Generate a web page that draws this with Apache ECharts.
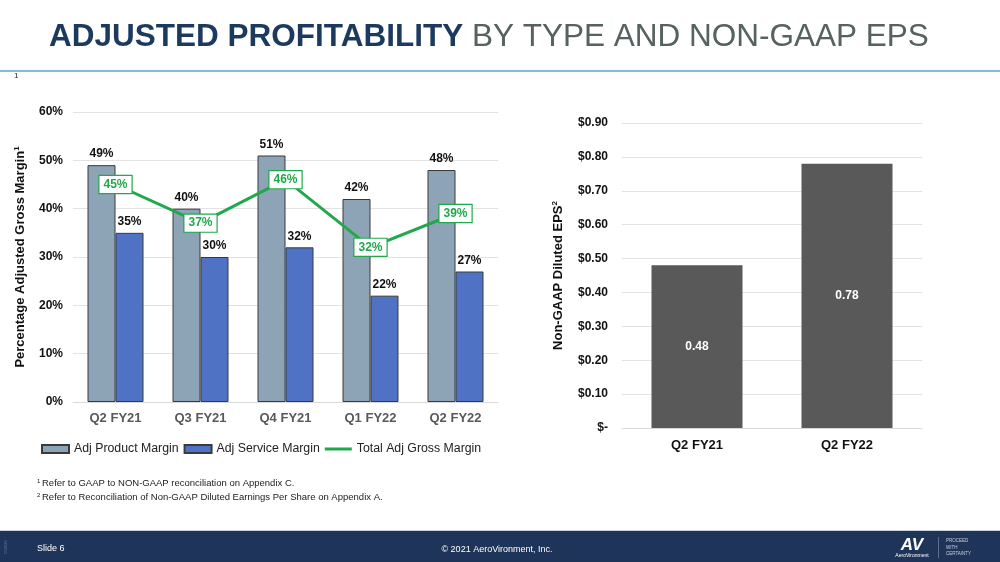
<!DOCTYPE html>
<html><head><meta charset="utf-8">
<script src="https://cdn.jsdelivr.net/npm/echarts@6/dist/echarts.min.js"></script>
<style>html,body{margin:0;padding:0;background:#fff}#c{width:1000px;height:562px}</style>
</head><body><div id="c"></div>
<script>
const quarters = ['Q2 FY21','Q3 FY21','Q4 FY21','Q1 FY22','Q2 FY22'];
const productMargin = [49, 40, 51, 42, 48];
const serviceMargin = [35, 30, 32, 22, 27];
const totalMargin = [45, 37, 46, 32, 39];
const epsCategories = ['Q2 FY21','Q2 FY22'];
const epsValues = [0.48, 0.78];

const F = '"Liberation Sans", Arial, sans-serif';
const chart = echarts.init(document.getElementById('c'), null, {renderer:'canvas'});
chart.setOption({
  animation:false,
  textStyle:{fontFamily:F},
  grid:[
    {left:73, top:112, width:425, height:290},
    {left:622, top:123, width:300, height:305}
  ],
  legend:{
    left:36, top:438, itemWidth:27, itemHeight:8, itemGap:5,
    textStyle:{fontSize:12.3, color:'#222', fontFamily:F},
    data:[
      {name:'Adj Product Margin', icon:'rect'},
      {name:'Adj Service Margin', icon:'rect'},
      {name:'Total Adj Gross Margin',
       icon:'path://M0,0h0.01v0.01h-0.01z M0,2.5h27v3h-27z M26.99,7.99h0.01v0.01h-0.01z'}
    ]
  },
  xAxis:[
    {type:'category', gridIndex:0, data:quarters,
     axisLine:{show:true, lineStyle:{color:'#d9d9d9'}}, axisTick:{show:false},
     axisLabel:{fontSize:13, fontWeight:'bold', color:'#595959', margin:10}},
    {type:'category', gridIndex:1, data:epsCategories,
     axisLine:{show:true, lineStyle:{color:'#d9d9d9'}}, axisTick:{show:false},
     axisLabel:{fontSize:13, fontWeight:'bold', color:'#111', margin:11}}
  ],
  yAxis:[
    {type:'value', gridIndex:0, min:0, max:60, interval:10,
     name:'Percentage Adjusted Gross Margin{sup|1}', nameLocation:'middle', nameGap:46, nameRotate:90,
     nameTextStyle:{fontSize:13, fontWeight:'bold', color:'#111',
       rich:{sup:{fontSize:8, fontWeight:'bold', verticalAlign:'top', padding:[0,0,6,0]}}},
     axisLine:{show:false}, axisTick:{show:false},
     splitLine:{lineStyle:{color:'#e3e3e3'}},
     axisLabel:{fontSize:12, fontWeight:'bold', color:'#111', formatter:'{value}%', margin:10}},
    {type:'value', gridIndex:1, min:0, max:0.9, interval:0.1,
     name:'Non-GAAP Diluted EPS{sup|2}', nameLocation:'middle', nameGap:57, nameRotate:90,
     nameTextStyle:{fontSize:13, fontWeight:'bold', color:'#111',
       rich:{sup:{fontSize:8, fontWeight:'bold', verticalAlign:'top', padding:[0,0,6,0]}}},
     axisLine:{show:false}, axisTick:{show:false},
     splitLine:{lineStyle:{color:'#e3e3e3'}},
     axisLabel:{fontSize:12, fontWeight:'bold', color:'#111', margin:14,
       formatter:v => v === 0 ? '$-' : '$' + v.toFixed(2)}}
  ],
  series:[
    {name:'Adj Product Margin', type:'bar', xAxisIndex:0, yAxisIndex:0, data:productMargin,
     barWidth:28, barGap:'0%',
     itemStyle:{color:'#8da3b6', borderColor:'#3a3a3a', borderWidth:1},
     label:{show:true, position:'top', distance:5, formatter:'{c}%', fontSize:12, fontWeight:'bold', color:'#111'}},
    {name:'Adj Service Margin', type:'bar', xAxisIndex:0, yAxisIndex:0, data:serviceMargin,
     barWidth:28, barGap:'0%',
     itemStyle:{color:'#5072c4', borderColor:'#3a3a3a', borderWidth:1},
     label:{show:true, position:'top', distance:5, formatter:'{c}%', fontSize:12, fontWeight:'bold', color:'#111'}},
    {name:'Total Adj Gross Margin', type:'line', xAxisIndex:0, yAxisIndex:0, data:totalMargin,
     z:5, symbol:'circle', symbolSize:1, showSymbol:true,
     lineStyle:{color:'#21a84c', width:3}, itemStyle:{color:'#21a84c'},
     label:{show:true, position:'inside', formatter:'{c}%', fontSize:12, fontWeight:'bold', color:'#21a84c',
       backgroundColor:'#fff', borderColor:'#21a84c', borderWidth:1.2, padding:[3,4,2,4]}},
    {name:'EPS', type:'bar', xAxisIndex:1, yAxisIndex:1, data:epsValues, barWidth:91,
     itemStyle:{color:'#595959'},
     label:{show:true, position:'inside', fontSize:12, fontWeight:'bold', color:'#fff',
       formatter:p => p.value.toFixed(2)}}
  ],
  graphic:[
    {type:'text', left:49, top:21, style:{text:'{b|ADJUSTED PROFITABILITY}{g| BY TYPE AND NON-GAAP EPS}',
      rich:{b:{fontSize:31.5, fontWeight:'bold', fill:'#1c3a5e', fontFamily:F},
            g:{fontSize:31.5, fill:'#56625c', fontFamily:F}}}},
    {type:'rect', shape:{x:0, y:70, width:1000, height:2}, style:{fill:'#7fc1d0'}},
    {type:'text', left:14, top:72, style:{text:'1', fontSize:8, fill:'#222', fontFamily:F}},
    {type:'text', left:37, top:478, style:{text:'{s|1 }Refer to GAAP to NON-GAAP reconciliation on Appendix C.',
      fontSize:9.5, fill:'#222', fontFamily:F, rich:{s:{fontSize:6, verticalAlign:'top'}}}},
    {type:'text', left:37, top:492, style:{text:'{s|2 }Refer to Reconciliation of Non-GAAP Diluted Earnings Per Share on Appendix A.',
      fontSize:9.5, fill:'#222', fontFamily:F, rich:{s:{fontSize:6, verticalAlign:'top'}}}},
    {type:'rect', shape:{x:0, y:531, width:1000, height:31}, style:{fill:'#1f3459'}},
    {type:'rect', shape:{x:0, y:530, width:1000, height:1}, style:{fill:'#c9d3dc'}},
    {type:'text', x:37, y:549, style:{text:'Slide 6', fontSize:9, fill:'#fff', fontFamily:F, verticalAlign:'middle'}},
    {type:'text', x:497, y:550, style:{text:'© 2021 AeroVironment, Inc.', fontSize:9, fill:'#fff', fontFamily:F, align:'center', verticalAlign:'middle'}},
    {type:'text', x:6, y:547, rotation:Math.PI/2, style:{text:'052020', fontSize:4, fill:'#6a7a92', fontFamily:F, align:'center', verticalAlign:'middle'}},
    {type:'text', x:912, y:545, style:{text:'AV', fontSize:17, fontWeight:'bold', fontStyle:'italic', fill:'#fff', fontFamily:F, align:'center', verticalAlign:'middle'}},
    {type:'text', x:912, y:556, style:{text:'AeroVironment', fontSize:5, fill:'#fff', fontFamily:F, align:'center', verticalAlign:'middle'}},
    {type:'rect', shape:{x:938, y:537, width:0.6, height:21}, style:{fill:'#8898b0'}},
    {type:'text', x:946, y:541, style:{text:'PROCEED', fontSize:4.5, fill:'#c8d0dc', fontFamily:F, verticalAlign:'middle'}},
    {type:'text', x:946, y:547.5, style:{text:'WITH', fontSize:4.5, fill:'#c8d0dc', fontFamily:F, verticalAlign:'middle'}},
    {type:'text', x:946, y:554, style:{text:'CERTAINTY', fontSize:4.5, fill:'#c8d0dc', fontFamily:F, verticalAlign:'middle'}}
  ]
});
</script></body></html>
